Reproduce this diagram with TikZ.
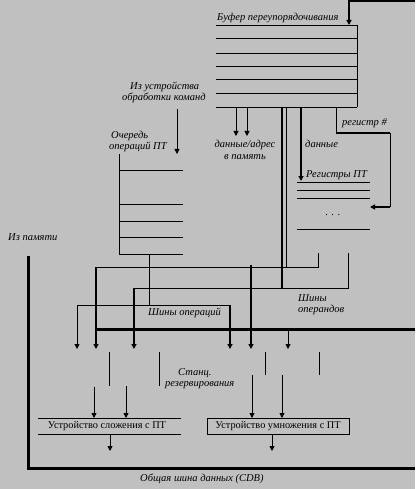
\documentclass[tikz,border=0pt]{standalone}
\usepackage{fontspec}
\setmainfont{Liberation Serif}
\usetikzlibrary{arrows.meta}
\definecolor{bggray}{RGB}{192,192,192}
\begin{document}
\begin{tikzpicture}[x=1pt,y=-1pt,
  thinln/.style={line width=0.9pt},
  thickln/.style={line width=2pt},
  busln/.style={line width=3pt},
  arr/.style={-{Triangle[length=5pt,width=5pt]}},
  lab/.style={font=\fontsize{10.5}{11}\selectfont\itshape, inner sep=0pt, anchor=west},
  clab/.style={font=\fontsize{10.5}{11}\selectfont\itshape, inner sep=0pt},
  unit/.style={font=\fontsize{10.3}{11}\selectfont, inner sep=0pt}]
\fill[bggray] (0,0) rectangle (415,489);
\useasboundingbox (0,0) rectangle (415,489);

% ---------- reorder buffer ----------
\foreach \yy in {25,38,53,66,79,93,107} \draw[thinln] (216,\yy) -- (357,\yy);
\draw[thinln] (357,25) -- (357,107);
\node[lab] (robl) at (217,18) {Буфер переупорядочивания};
\coordinate (inA) at (415,1);
\coordinate (inB) at (349,1);
\coordinate (robin) at (349,25);
\draw[thickln,arr] (inA) -- (inB) -- (robin);

% data/address to memory
\coordinate (m1a) at (236,107); \coordinate (m1b) at (236,136);
\coordinate (m2a) at (247,107); \coordinate (m2b) at (247,136);
\draw[thinln,arr] (m1a) -- (m1b);
\draw[thinln,arr] (m2a) -- (m2b);
\node[clab] (dal1) at (245,145) {данные/адрес};
\node[clab] (dal2) at (245,157) {в память};

% data to registers
\coordinate (d1) at (301,107); \coordinate (d2) at (301,181);
\draw[thickln,arr] (d1) -- (d2);
\node[lab] (dl) at (305,144) {данные};

% register number
\coordinate (r1) at (336,107); \coordinate (r2) at (336,133);
\coordinate (r3) at (390,133); \coordinate (r4) at (390,207);
\coordinate (r5) at (370,207);
\draw[thinln] (r1) -- (r2);
\draw[thickln] (r2) -- (r3);
\draw[thinln] (r3) -- (r4);
\draw[thickln,arr] (r4) -- (r5);
\node[lab] (rnl) at (342,123) {регистр \#};

% ---------- FP registers ----------
\foreach \yy in {182,190,198,229} \draw[thinln] (297,\yy) -- (370,\yy);
\node[lab] (regl) at (306,175) {Регистры ПТ};
\node[clab] (dots) at (333,215) {. . .};

% ---------- instruction unit ----------
\node[lab] (iul1) at (130,87) {Из устройства};
\node[lab] (iul2) at (122,98) {обработки команд};
\coordinate (iu1) at (177,109); \coordinate (iu2) at (177,154);
\draw[thinln,arr] (iu1) -- (iu2);

% ---------- FP op queue ----------
\node[lab] (qln1) at (111,136) {Очередь};
\node[lab] (qln2) at (109,147) {операций ПТ};
\draw[thinln] (119,154) -- (119,254);
\foreach \yy in {170,204,221,237,254} \draw[thinln] (119,\yy) -- (183,\yy);

% ---------- operation bus ----------
\coordinate (q1) at (149,254); \coordinate (q2) at (149,305);
\coordinate (ob1) at (77,305); \coordinate (ob2) at (230,305);
\coordinate (ob1e) at (77,349); \coordinate (ob2e) at (230,349);
\draw[thinln] (q1) -- (q2);
\draw[thinln] (ob1) -- (ob2);
\draw[thinln,arr] (ob1) -- (ob1e);
\draw[thickln,arr] (ob2) -- (ob2e);
\node[lab] (opbl) at (148,313) {Шины операций};

% ---------- operand buses ----------
\coordinate (a1) at (286,107); \coordinate (a2) at (286,267);
\coordinate (a3) at (96,267); \coordinate (a4) at (318,267);
\coordinate (a5) at (318,253);
\coordinate (a6) at (96,349); \coordinate (a7) at (251,265); \coordinate (a8) at (251,349);
\draw[thinln] (a1) -- (a2);
\draw[thinln] (a3) -- (a4) -- (a5);
\draw[thickln,arr] (a3) -- (a6);
\draw[thickln,arr] (a7) -- (a8);
\coordinate (b1) at (282,107); \coordinate (b2) at (282,288);
\coordinate (b3) at (134,288); \coordinate (b4) at (348,288);
\coordinate (b5) at (348,253); \coordinate (b6) at (134,349);
\draw[thickln] (b1) -- (b2);
\draw[thinln] (b3) -- (b4) -- (b5);
\draw[thickln,arr] (b3) -- (b6);
\node[lab] (opdl1) at (298,298) {Шины};
\node[lab] (opdl2) at (298,310) {операндов};

% CDB internal bus
\coordinate (c1) at (96,329); \coordinate (c2) at (415,329);
\draw[busln] (c1) -- (c2);
\coordinate (c3) at (288,329); \coordinate (c4) at (288,349);
\draw[thinln,arr] (c3) -- (c4);

% ---------- reservation stations ----------
\draw[thinln] (109,352) -- (109,386);
\draw[thinln] (159,352) -- (159,386);
\draw[thinln] (265,352) -- (265,375);
\draw[thinln] (319,352) -- (319,375);
\node[lab] (rsl1) at (178,373) {Станц.};
\node[lab] (rsl2) at (165,385) {резервирования};

% ---------- adder ----------
\draw[thinln] (38,418) -- (181,418);
\draw[thinln] (38,434) -- (181,434);
\node[unit] (add) at (107,426) {Устройство сложения с ПТ};
\coordinate (ai1) at (94,387); \coordinate (ai1e) at (94,418);
\coordinate (ai2) at (126,386); \coordinate (ai2e) at (126,418);
\draw[thinln,arr] (ai1) -- (ai1e);
\draw[thinln,arr] (ai2) -- (ai2e);
\coordinate (ao) at (110,434); \coordinate (aoe) at (110,451);
\draw[thinln,arr] (ao) -- (aoe);

% ---------- multiplier ----------
\node[unit,draw,line width=0.9pt,minimum width=142pt,minimum height=16pt] (mul) at (278,426) {Устройство умножения с ПТ};
\coordinate (mi1) at (252,375); \coordinate (mi1e) at (252,418);
\coordinate (mi2) at (282,375); \coordinate (mi2e) at (282,418);
\draw[thinln,arr] (mi1) -- (mi1e);
\draw[thinln,arr] (mi2) -- (mi2e);
\coordinate (mo) at (272,434); \coordinate (moe) at (272,451);
\draw[thinln,arr] (mo) -- (moe);

% ---------- from memory / CDB ----------
\node[lab] (meml) at (8,237) {Из памяти};
\coordinate (cd1) at (28,256); \coordinate (cd2) at (28,468); \coordinate (cd3) at (415,468);
\draw[busln] (cd1) -- (cd2) -- (cd3);
\node[lab] (cdbl) at (140,479) {Общая шина данных (CDB)};
\end{tikzpicture}
\end{document}
